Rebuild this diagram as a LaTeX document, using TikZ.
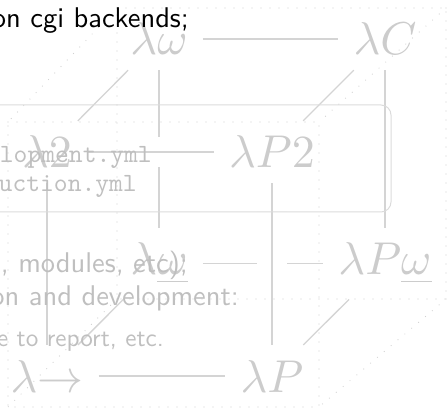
\documentclass[tikz,border=0pt]{standalone}
\usepackage{graphicx}
\begin{document}
\begin{tikzpicture}[x=1pt,y=-1pt,
  cube/.style={draw=black!17, line width=1.3pt},
  lab/.style={text=black!20, inner sep=15pt, anchor=base},
  band/.style={draw=white, line width=30pt},
  dotline/.style={draw=black!18, line width=1.2pt, dash pattern=on 0pt off 9pt, line cap=round},
  txt/.style={text=black!25, inner sep=0pt, anchor=base east},
  frame/.style={draw=black!14, line width=1pt, rounded corners=10pt}
]
\useasboundingbox (0,0) rectangle (447,411);
\clip (0,0) rectangle (447,411);
% lambda cube nodes
\node[lab] (lw)  at (159,55)  {\scalebox{4.6}{$\lambda\omega$}};
\node[lab] (lC)  at (385,55)  {\scalebox{4.6}{$\lambda C$}};
\node[lab] (l2)  at (47,168)  {\scalebox{4.6}{$\lambda 2$}};
\node[lab] (lP2) at (272,168) {\scalebox{4.6}{$\lambda P2$}};
\node[lab] (lwu) at (159,275) {\scalebox{4.6}{$\lambda\underline{\omega}$}};
\node[lab] (lPw) at (385,275) {\scalebox{4.6}{$\lambda P\underline{\omega}$}};
\node[lab] (lto) at (47,392)  {\scalebox{4.6}{$\lambda{\to}$}};
\node[lab] (lP)  at (272,392) {\scalebox{4.6}{$\lambda P$}};
% back edges and plain edges
\draw[cube] (lw) -- (lC);
\draw[cube] (lw) -- (l2);
\draw[cube] (lw) -- (lwu);
\draw[cube] (lC) -- (lP2);
\draw[cube] (lC) -- (lPw);
\draw[cube] (l2) -- (lto);
\draw[cube] (lwu) -- (lPw);
\draw[cube] (lwu) -- (lto);
\draw[cube] (lPw) -- (lP);
\draw[cube] (lto) -- (lP);
% front edges with white gaps
\draw[band] (l2) -- (lP2);
\draw[band] (lP2) -- (lP);
\draw[cube] (l2) -- (lP2);
\draw[cube] (lP2) -- (lP);
% dotted box
\draw[dotline] (117,8) -- (446,8) -- (446,299) -- (117,299) -- cycle;
\draw[dotline] (8,122) -- (319,122) -- (319,407) -- (8,407) -- cycle;
\draw[dotline] (117,8) -- (8,122);
\draw[dotline] (446,8) -- (319,122);
\draw[dotline] (446,299) -- (319,407);
\draw[dotline] (117,299) -- (8,407);
% code frame
\draw[frame] (-40,105) rectangle (391,212);
% texts
\node[txt, text=black] (t1) at (189,28) {\scalebox{2.85}{\sffamily on cgi backends;}};
\node[txt] (t2) at (152,163) {\scalebox{2.63}{\ttfamily lopment.yml}};
\node[txt] (t3) at (137,192) {\scalebox{2.63}{\ttfamily uction.yml}};
\node[txt] (t4) at (188,273) {\scalebox{2.85}{\sffamily , modules, etc);}};
\node[txt] (t5) at (239,306) {\scalebox{2.85}{\sffamily on and development:}};
\node[txt] (t6) at (164,347) {\scalebox{2.52}{\sffamily e to report, etc.}};
\end{tikzpicture}
\end{document}
